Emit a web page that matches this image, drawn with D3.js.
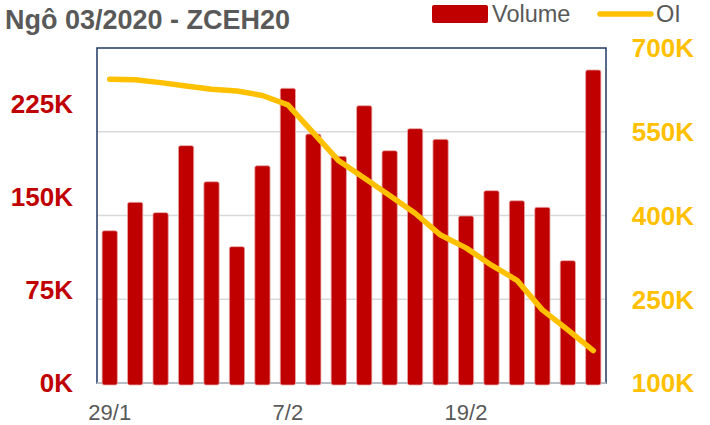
<!DOCTYPE html>
<html>
<head>
<meta charset="utf-8">
<script src="https://cdn.jsdelivr.net/npm/d3@7"></script>
<style>
  body { margin: 0; background: #fff; }
  svg { font-family: "Liberation Sans", Arial, sans-serif; }
</style>
</head>
<body>
<script>
// du lieu
const dates = ["29/1", "30/1", "31/1", "3/2", "4/2", "5/2", "6/2", "7/2", "10/2", "11/2",
               "12/2", "13/2", "14/2", "18/2", "19/2", "20/2", "21/2", "24/2", "25/2", "26/2"];
const volume = [122700, 145600, 137300, 191300, 162200, 109900, 175100, 237500, 200700, 182700,
                223500, 187200, 205000, 196400, 134600, 155000, 146900, 141600, 98600, 252300];
const oi = [644000, 643000, 638000, 632000, 626000, 623000, 615000, 598000, 548000, 498000,
            467000, 436000, 404000, 365000, 342000, 311000, 284000, 231000, 195000, 158000];
const volTicks = [0, 75000, 150000, 225000];
const oiTicks = [100000, 250000, 400000, 550000, 700000];
const xTickLabels = ["29/1", "7/2", "19/2"];

const W = 710, H = 425;
const plot = { left: 97, right: 606, top: 48, bottom: 383 };

const svg = d3.select("body").append("svg")
    .attr("width", W).attr("height", H);

const x = d3.scaleBand()
    .domain(dates)
    .range([plot.left, plot.right])
    .paddingInner(0.4)
    .paddingOuter(0.2);

const yVol = d3.scaleLinear().domain([0, 270000]).range([plot.bottom, plot.top]);
const yOi = d3.scaleLinear().domain([100000, 700000]).range([plot.bottom, plot.top]);
const fmtK = d => (d / 1000) + "K";

// luoi ngang
svg.append("g")
    .selectAll("line")
    .data(oiTicks.slice(1, -1))
    .enter().append("line")
    .attr("x1", plot.left).attr("x2", plot.right)
    .attr("y1", d => yOi(d)).attr("y2", d => yOi(d))
    .attr("stroke", "#d9d9d9").attr("stroke-width", 1.5);

// khung
svg.append("rect")
    .attr("x", plot.left).attr("y", plot.top)
    .attr("width", plot.right - plot.left).attr("height", plot.bottom - plot.top)
    .attr("fill", "none").attr("stroke", "#203864").attr("stroke-width", 1.5);

svg.append("line")
    .attr("x1", plot.left).attr("x2", plot.right)
    .attr("y1", plot.bottom).attr("y2", plot.bottom)
    .attr("stroke", "#d9d9d9").attr("stroke-width", 1.5);

// cot volume
svg.append("g")
    .selectAll("rect")
    .data(volume)
    .enter().append("rect")
    .attr("x", (d, i) => x(dates[i]))
    .attr("y", d => yVol(d))
    .attr("width", x.bandwidth())
    .attr("height", d => yVol(0) - yVol(d) + 2)
    .attr("rx", 2)
    .attr("fill", "#c00000")
    .attr("stroke", "#e8a8a8").attr("stroke-width", 0.8);

// duong OI
const line = d3.line()
    .x((d, i) => x(dates[i]) + x.bandwidth() / 2)
    .y(d => yOi(d));

svg.append("path")
    .datum(oi)
    .attr("d", line)
    .attr("fill", "none")
    .attr("stroke", "#ffc000")
    .attr("stroke-width", 5.5)
    .attr("stroke-linecap", "round")
    .attr("stroke-linejoin", "round");

// truc trai
svg.append("g")
    .selectAll("text")
    .data(volTicks)
    .enter().append("text")
    .attr("x", 73)
    .attr("y", d => yVol(d))
    .attr("dy", "0.36em")
    .attr("text-anchor", "end")
    .attr("font-size", 26).attr("font-weight", "bold")
    .attr("fill", "#c00000")
    .text(fmtK);

// truc phai
svg.append("g")
    .selectAll("text")
    .data(oiTicks)
    .enter().append("text")
    .attr("x", 694)
    .attr("y", d => yOi(d))
    .attr("dy", "0.36em")
    .attr("text-anchor", "end")
    .attr("font-size", 26).attr("font-weight", "bold")
    .attr("fill", "#ffc000")
    .text(fmtK);

// truc x
svg.append("g")
    .selectAll("text")
    .data(xTickLabels)
    .enter().append("text")
    .attr("x", d => x(d) + x.bandwidth() / 2)
    .attr("y", 412)
    .attr("dy", "0.36em")
    .attr("text-anchor", "middle")
    .attr("font-size", 22)
    .attr("fill", "#595959")
    .text(d => d);

// tieu de
svg.append("text")
    .attr("x", 5).attr("y", 29)
    .attr("font-size", 27).attr("font-weight", "bold")
    .attr("fill", "#595959")
    .text("Ngô 03/2020 - ZCEH20");

// chu giai
const leg = svg.append("g");
leg.append("rect")
    .attr("x", 432).attr("y", 5).attr("width", 56).attr("height", 18)
    .attr("rx", 2).attr("fill", "#c00000");
leg.append("text")
    .attr("x", 492).attr("y", 22)
    .attr("font-size", 23.5).attr("fill", "#595959")
    .text("Volume");
leg.append("line")
    .attr("x1", 600).attr("x2", 651).attr("y1", 14).attr("y2", 14)
    .attr("stroke", "#ffc000").attr("stroke-width", 5.5)
    .attr("stroke-linecap", "round");
leg.append("text")
    .attr("x", 656).attr("y", 22)
    .attr("font-size", 23.5).attr("fill", "#595959")
    .text("OI");
</script>
</body>
</html>
